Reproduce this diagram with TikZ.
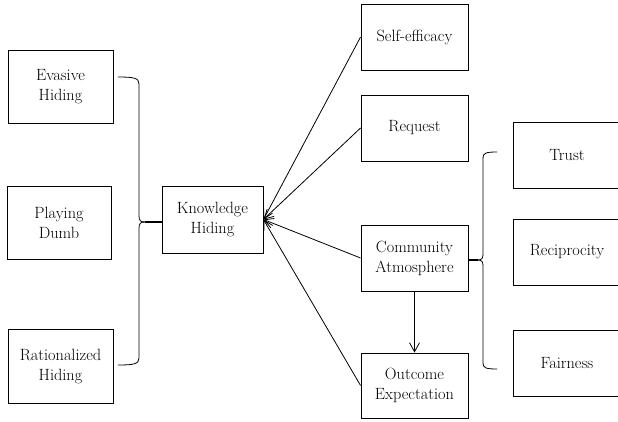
\documentclass[tikz,border=0pt]{standalone}
\usepackage{fontspec}
\usetikzlibrary{arrows.meta}
\begin{document}
\begin{tikzpicture}[x=1pt,y=-1pt,
  box/.style={draw, line width=0.9pt, align=center, inner sep=0pt,
    font=\fontsize{16.3}{20}\selectfont, minimum width=#1},
  box/.default=107pt,
  conn/.style={line width=0.8pt},
  arr/.style={conn, -{Straight Barb[length=9pt,width=10pt]}}
]
\useasboundingbox (0,0) rectangle (618,421);
\fill[white] (0,0) rectangle (618,421);
% left column
\node[box=105pt, minimum height=73pt] (EH) at (60.5,86.5) {Evasive\\Hiding};
\node[box=104pt, minimum height=73pt] (PD) at (59,222.5) {Playing\\Dumb};
\node[box=105pt, minimum height=74pt] (RH) at (60.5,366) {Rationalized\\Hiding};
% centre
\node[box=101pt, minimum height=67pt] (KH) at (212.5,219.5) {Knowledge\\Hiding};
% right column
\node[box, minimum height=66pt] (SE) at (414.5,37) {Self-efficacy};
\node[box, minimum height=66pt] (RQ) at (414.5,128) {Request};
\node[box, minimum height=66pt] (CA) at (414.5,258) {Community\\Atmosphere};
\node[box, minimum height=65pt] (OE) at (414.5,385.5) {Outcome\\Expectation};
% far right column
\node[box=108pt, minimum height=66pt] (TR) at (567,155) {Trust};
\node[box=108pt, minimum height=66pt] (RC) at (567,252) {Reciprocity};
\node[box=108pt, minimum height=66pt] (FA) at (567,363) {Fairness};
% left brace
\coordinate (lb1) at (118,77);
\coordinate (lb2) at (118,365);
\coordinate (lbm) at (145,222);
\draw[conn] (lb1) .. controls (134,77) and (139,78) .. (139,84) -- (139,216)
  .. controls (139,221) and (141,222) .. (lbm);
\draw[conn] (lbm) .. controls (141,222) and (139,223) .. (139,228) -- (139,358)
  .. controls (139,364) and (134,365) .. (lb2);
\draw[line width=1.4pt] (lbm) -- (KH.west |- lbm);
% right brace
\coordinate (rb1) at (497,152);
\coordinate (rb2) at (497,369);
\coordinate (rbm) at (478,260);
\draw[conn] (rb1) .. controls (486,152) and (483,153) .. (483,158) -- (483,254)
  .. controls (483,258) and (482,260) .. (rbm);
\draw[conn] (rbm) .. controls (482,260) and (483,262) .. (483,266) -- (483,363)
  .. controls (483,368) and (486,369) .. (rb2);
\draw[line width=1.2pt] (rbm) -- (CA.east |- rbm);
% arrows
\draw[arr] (SE.west) -- (KH.east);
\draw[arr] (RQ.west) -- (KH.east);
\draw[arr] (CA.west) -- (KH.east);
\draw[arr] (OE.west) -- (KH.east);
\draw[arr] (CA.south) -- (OE.north);
\end{tikzpicture}
\end{document}
